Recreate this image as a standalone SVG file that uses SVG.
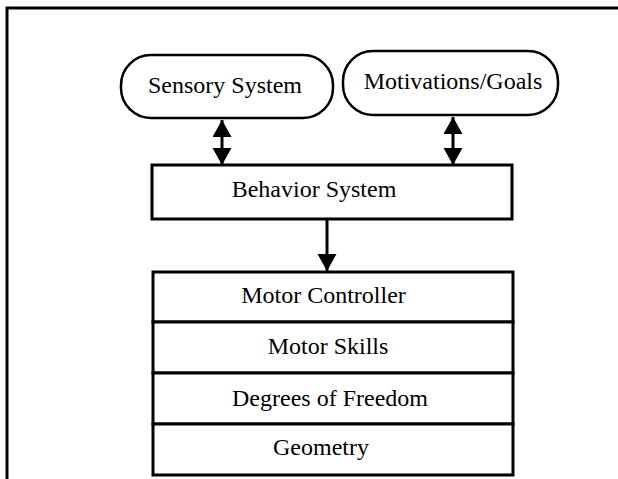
<svg xmlns="http://www.w3.org/2000/svg" width="618" height="479" viewBox="0 0 618 479">
  <style>
    .box { fill: #fff; stroke: #000; stroke-width: 3; }
    .pill { fill: #fff; stroke: #000; stroke-width: 2.5; }
    .lbl { font-family: "Liberation Serif", "Times New Roman", serif; font-size: 24px; fill: #000; text-anchor: middle; }
    .link { stroke: #000; stroke-width: 3; fill: none; }
    .frame { stroke: #000; stroke-width: 3; fill: none; }
  </style>
  <defs>
    <marker id="head" markerUnits="userSpaceOnUse" markerWidth="20" markerHeight="20" refX="17" refY="9.5" orient="auto-start-reverse">
      <path d="M0,0 L17,9.5 L0,19 Z" fill="#000"/>
    </marker>
  </defs>

  <rect width="618" height="479" fill="#fff"/>
  <!-- outer frame: top and left edges -->
  <path class="frame" d="M7,479 L7,8 L618,8"/>

  <g id="connectors">
    <line class="link" x1="222" y1="120" x2="222" y2="165" marker-start="url(#head)" marker-end="url(#head)"/>
    <line class="link" x1="453" y1="117" x2="453" y2="165" marker-start="url(#head)" marker-end="url(#head)"/>
    <line class="link" x1="327" y1="220" x2="327" y2="271" marker-end="url(#head)"/>
  </g>

  <g id="sensory-system">
    <rect class="pill" x="121" y="55" width="212" height="63" rx="30" ry="30"/>
    <text class="lbl" x="225" y="93">Sensory System</text>
  </g>

  <g id="motivations-goals">
    <rect class="pill" x="343" y="51" width="215" height="64" rx="30" ry="30"/>
    <text class="lbl" x="453" y="89">Motivations/Goals</text>
  </g>

  <g id="behavior-system">
    <rect class="box" x="152" y="165" width="360" height="54"/>
    <text class="lbl" x="314" y="197">Behavior System</text>
  </g>

  <g id="motor-controller">
    <rect class="box" x="153" y="272" width="360" height="50"/>
    <text class="lbl" x="323.5" y="303">Motor Controller</text>
  </g>

  <g id="motor-skills">
    <rect class="box" x="153" y="322" width="360" height="51"/>
    <text class="lbl" x="328" y="354">Motor Skills</text>
  </g>

  <g id="degrees-of-freedom">
    <rect class="box" x="153" y="373" width="360" height="51"/>
    <text class="lbl" x="330" y="406">Degrees of Freedom</text>
  </g>

  <g id="geometry">
    <rect class="box" x="153" y="424" width="360" height="51"/>
    <text class="lbl" x="321" y="455">Geometry</text>
  </g>
</svg>
